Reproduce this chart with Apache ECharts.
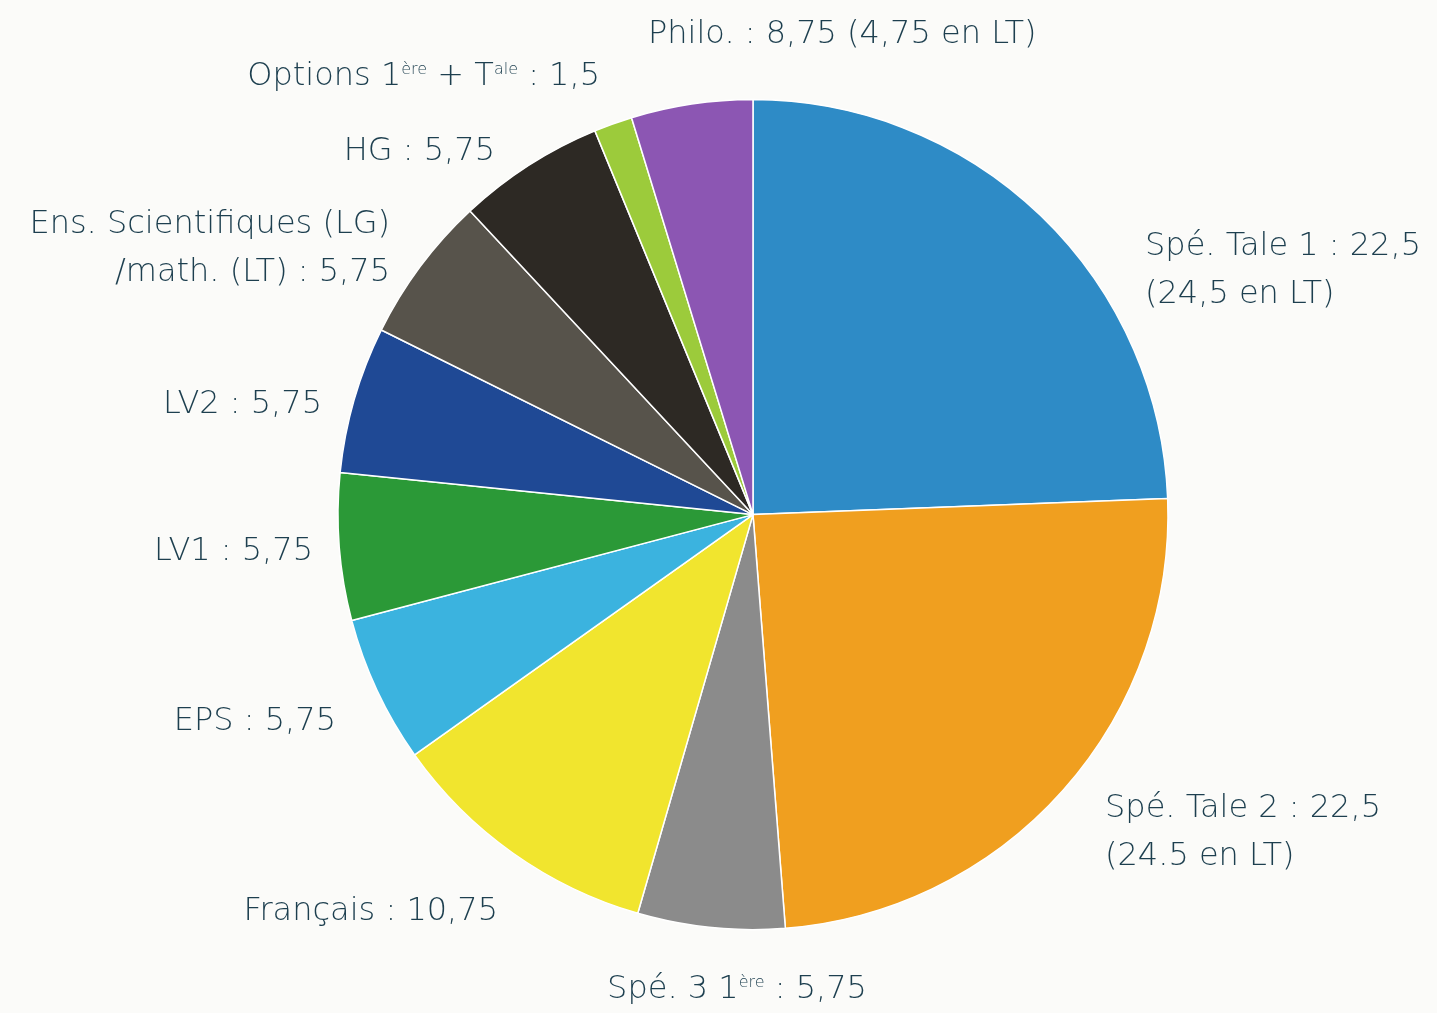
<!DOCTYPE html>
<html>
<head>
<meta charset="utf-8">
<script src="https://cdn.jsdelivr.net/npm/echarts@6/dist/echarts.min.js"></script>
<style>
  html, body { margin: 0; padding: 0; background: #fbfbf9; }
  #main { width: 1437px; height: 1013px; }
</style>
</head>
<body>
<div id="main"></div>
<script>
// slices drawn clockwise from 12 o'clock (sizes follow the LT hours)
var subjects = ['Spé. Tale 1', 'Spé. Tale 2', 'Spé. 3 1ère', 'Français', 'EPS', 'LV1', 'LV2',
  'Ens. Scientifiques', 'HG', 'Options', 'Philo.'];
var hours = [24.5, 24.5, 5.75, 10.75, 5.75, 5.75, 5.75, 5.75, 5.75, 1.5, 4.75];
var labelTexts = [
  'Spé. Tale 1 : 22,5\n(24,5 en LT)',
  'Spé. Tale 2 : 22,5\n(24.5 en LT)',
  'Spé. 3 1{s|ère} : 5,75',
  'Français : 10,75',
  'EPS : 5,75',
  'LV1 : 5,75',
  'LV2 : 5,75',
  'Ens. Scientifiques (LG)\n/math. (LT) : 5,75',
  'HG : 5,75',
  'Options 1{s|ère} + T{s|ale} : 1,5',
  'Philo. : 8,75 (4,75 en LT)'
];
var colors = ['#2e8bc6', '#f09f1f', '#8b8b8b', '#f1e52e', '#3bb3df', '#2b9937', '#1f4995',
  '#57534b', '#2d2924', '#9ccb3b', '#8c56b3'];

// where each label sits (px) and how it is aligned
var labelSpots = [
  [1145, 271, 'left'], [1105, 833, 'left'], [737, 990, 'center'], [498, 912, 'right'],
  [336, 722, 'right'], [313, 552, 'right'], [322, 405, 'right'], [390, 249, 'right'],
  [495, 152, 'right'], [600, 77, 'right'], [648, 35, 'left']
];

var chart = echarts.init(document.getElementById('main'));

var option = {
  backgroundColor: '#fbfbf9',
  animation: false,
  series: [{
    type: 'pie',
    center: ['52.4%', '50.8%'],
    radius: 415,
    startAngle: 90,
    clockwise: true,
    avoidLabelOverlap: false,
    itemStyle: { borderColor: '#ffffff', borderWidth: 1.5 },
    label: {
      show: true,
      position: 'outside',
      fontFamily: 'DejaVu Sans',
      fontWeight: 200,
      fontSize: 32,
      lineHeight: 48,
      color: '#1d3f4f',
      rich: {
        s: {
          fontFamily: 'DejaVu Sans', fontWeight: 200, fontSize: 16, color: '#1d3f4f',
          lineHeight: 18, padding: [0, 0, 15, 0], verticalAlign: 'middle'
        }
      }
    },
    labelLine: { show: false },
    labelLayout: function (params) {
      var p = labelSpots[params.dataIndex];
      return { x: p[0], y: p[1], align: p[2], verticalAlign: 'middle' };
    },
    data: subjects.map(function (name, i) {
      return {
        name: name,
        value: hours[i],
        itemStyle: { color: colors[i] },
        label: {
          formatter: labelTexts[i],
          align: labelSpots[i][2]
        }
      };
    })
  }]
};

chart.setOption(option);
</script>
</body>
</html>
